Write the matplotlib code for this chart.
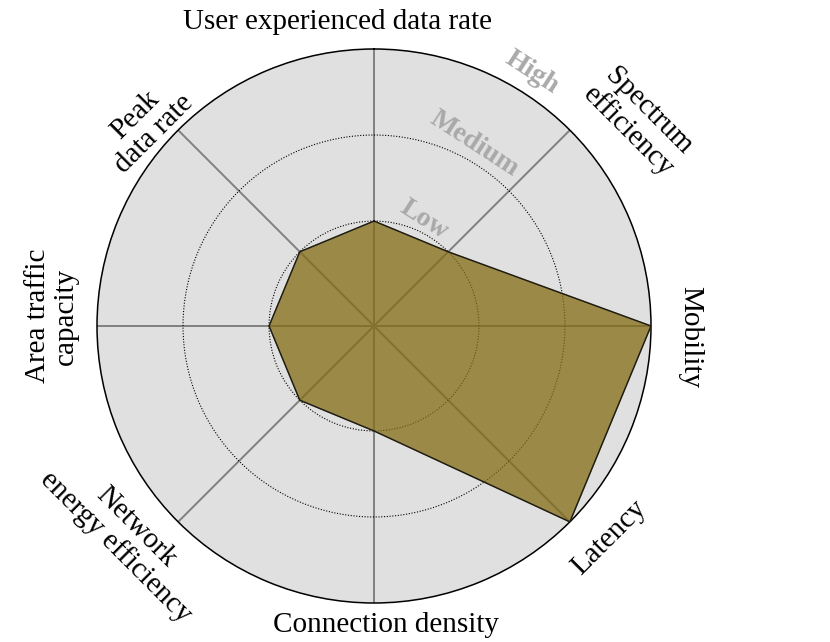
import numpy as np
import matplotlib.pyplot as plt

plt.rcParams['font.family'] = ['Liberation Serif', 'DejaVu Serif']

# 能力項目（上から時計回り）
categories = ['User experienced data rate', 'Spectrum\nefficiency', 'Mobility', 'Latency',
              'Connection density', 'Network\nenergy efficiency', 'Area traffic\ncapacity', 'Peak\ndata rate']
# 重要度 1=Low, 2=Medium, 3=High
importance = [1, 1, 3, 3, 1, 1, 1, 1]
level_names = ['Low', 'Medium', 'High']
level_values = [1, 2, 3]

# ラベル配置（画面上の角度[deg], 中心からの距離[px]）
label_pos = [(96.9, 306), (37.7, 334), (-2, 316), (-42, 316),
             (-87.7, 299), (-139.6, 326), (178.2, 322), (138.7, 305)]
level_pos = [(64.7, 117), (61.2, 208), (58.1, 299)]

R_PX = 277
RMIN = -0.22


def px_to_r(px):
    return RMIN + px / R_PX * (3 - RMIN)


n = len(categories)
theta = np.arange(n) * 2 * np.pi / n

fig = plt.figure(figsize=(8.3, 6.42), dpi=100)
ax = fig.add_axes([97 / 830, (642 - 326 - R_PX) / 642, 2 * R_PX / 830, 2 * R_PX / 642],
                  projection='polar')
ax.set_theta_offset(np.pi / 2)
ax.set_theta_direction(-1)
ax.set_ylim(RMIN, 3)
ax.set_facecolor('#e0e0e0')
ax.spines['polar'].set_linewidth(1.1)

ax.set_xticks(theta)
ax.set_xticklabels([])
ax.set_yticks(level_values[:-1])
ax.set_yticklabels([])
ax.xaxis.grid(True, color='#808080', lw=1.4)
ax.yaxis.grid(True, color='black', ls=(0, (1, 1.5)), lw=0.8)

# データ多角形
th = np.append(theta, theta[0])
vals = np.append(importance, importance[0])
ax.fill(th, vals, color='#846c15', alpha=0.75, zorder=3)
ax.plot(th, vals, color='#1a1a1a', lw=1, zorder=4)

# 項目ラベル（円周に沿って回転）
for t, name, (ang, rpx) in zip(theta, categories, label_pos):
    disp = (90 - np.rad2deg(t) + 180) % 360 - 180
    if disp == -180:
        disp = 180
    rot = disp - 90 if disp >= 0 else disp + 90
    ax.text(np.deg2rad(90 - ang), px_to_r(rpx), name, rotation=rot, rotation_mode='anchor',
            ha='center', va='center', fontsize=21, linespacing=1.08, color='black')

# Low / Medium / High
for name, (ang, rpx) in zip(level_names, level_pos):
    ax.text(np.deg2rad(90 - ang), px_to_r(rpx), name, rotation=-33, rotation_mode='anchor',
            ha='center', va='center', fontsize=20, fontweight='bold', color='#a9a9a9')

plt.savefig('out.png', dpi=100)
